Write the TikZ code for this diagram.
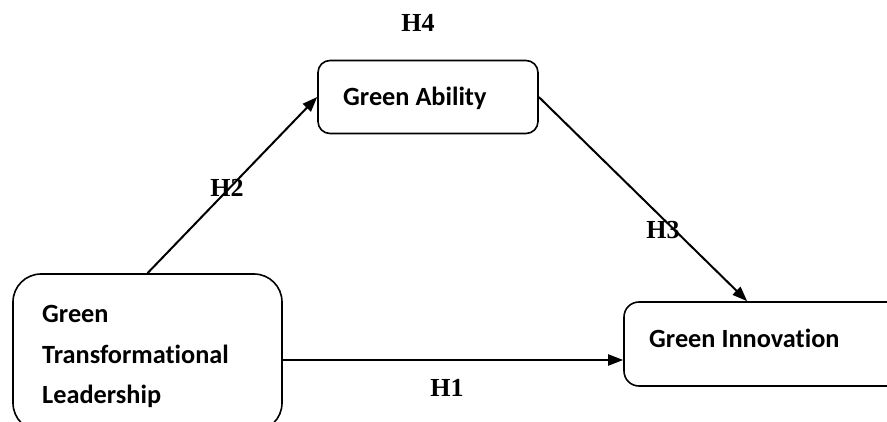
\documentclass[tikz,border=0pt]{standalone}
\usepackage{fontspec}
\setmainfont{Liberation Serif}
\newfontfamily\boxfont[Ligatures={NoCommon,NoContextual,NoRequired}]{Carlito}
\usetikzlibrary{arrows.meta}
\begin{document}
\begin{tikzpicture}[x=1pt,y=-1pt,
  box/.style={draw, line width=1.6pt, inner sep=0pt},
  boxtext/.style={anchor=base west, inner sep=0pt, font=\boxfont\bfseries\fontsize{26.3}{40}\selectfont},
  hlabel/.style={inner sep=0pt, font=\bfseries\fontsize{26}{30}\selectfont},
  arr/.style={line width=2pt, -{Triangle[length=15pt,width=11pt]}}]
\useasboundingbox (0,0) rectangle (887,422);
\clip (0,0) rectangle (887,422);

% variable boxes (the lower two run past the frame)
\node[box, rounded corners=12pt, minimum width=220pt, minimum height=73pt] (ga) at (428,97) {};
\node[box, rounded corners=28pt, minimum width=269pt, minimum height=157pt] (gtl) at (147.5,352.5) {};
\node[box, rounded corners=15pt, minimum width=280pt, minimum height=84pt] (gi) at (764,344) {};

% box texts
\node[boxtext] (ga-t) at (343,106) {Green Ability};
\node[boxtext] (gtl-t1) at (42,323) {Green};
\node[boxtext] (gtl-t2) at (42,363) {Transformational};
\node[boxtext] (gtl-t3) at (42,403) {Leadership};
\node[boxtext] (gi-t) at (649,348) {Green Innovation};

% paths
\draw[arr] (gtl.north) -- (ga.west);
\path ([xshift=124pt]gi.north west) coordinate (h3e);
\draw[arr] (ga.east) -- (h3e);
\path ([yshift=-7.5pt]gtl.east) coordinate (h1s);
\draw[arr] (h1s) -- (h1s -| gi.west);

% hypothesis labels
\node[hlabel] (h4) at (418,23) {H4};
\node[hlabel] (h2) at (227,188) {H2};
\node[hlabel] (h3) at (663,230) {H3};
\node[hlabel] (h1) at (447,388) {H1};
\end{tikzpicture}
\end{document}
